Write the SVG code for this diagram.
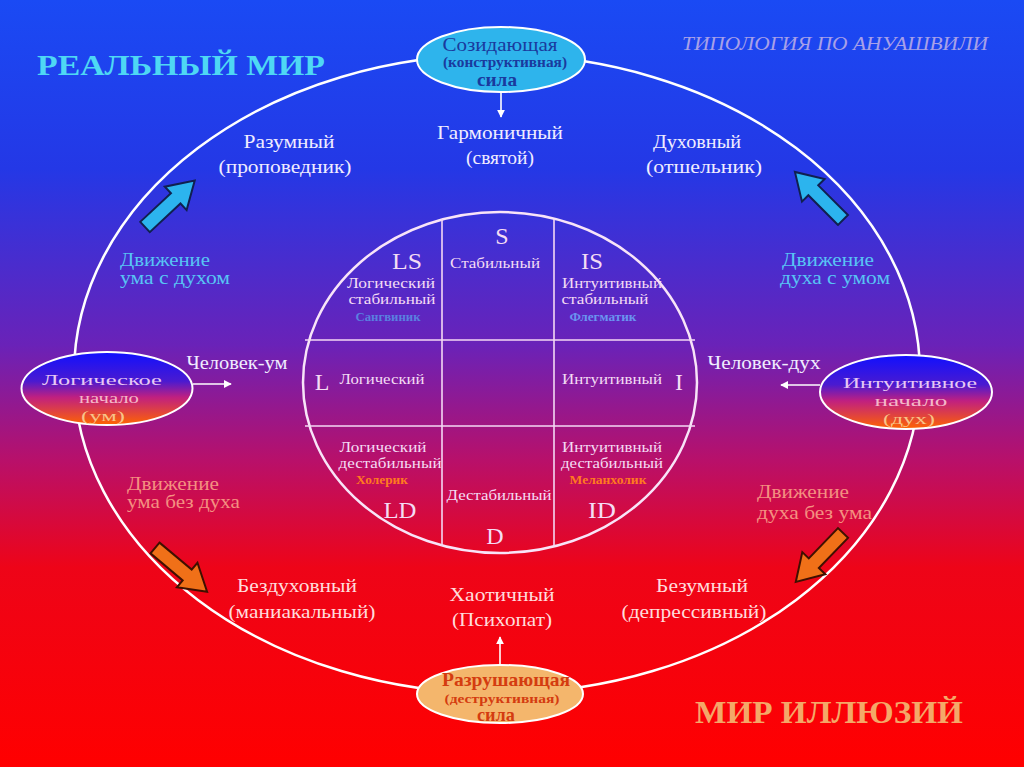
<svg xmlns="http://www.w3.org/2000/svg" width="1024" height="767" viewBox="0 0 1024 767">
<defs>
<linearGradient id="bg" x1="0" y1="0" x2="0" y2="1">
<stop offset="0" stop-color="#1a4af4"/>
<stop offset="0.22" stop-color="#2438e6"/>
<stop offset="0.45" stop-color="#6a22b8"/>
<stop offset="0.6" stop-color="#b8106a"/>
<stop offset="0.74" stop-color="#ee0418"/>
<stop offset="1" stop-color="#ff0000"/>
</linearGradient>
<linearGradient id="nodeGrad" x1="0" y1="0" x2="0" y2="1">
<stop offset="0" stop-color="#1010ff"/>
<stop offset="0.4" stop-color="#4a1ad0"/>
<stop offset="0.62" stop-color="#c02080"/>
<stop offset="1" stop-color="#ff6400"/>
</linearGradient>
<marker id="ah" viewBox="0 0 10 10" refX="9" refY="5" markerWidth="5" markerHeight="5" orient="auto">
<path d="M0,0 L10,5 L0,10 z" fill="#ffffff"/>
</marker>
<path id="blk" d="M0,-7 L42,-7 L42,-16 L68,0 L42,16 L42,7 L0,7 z"/>
</defs>
<style>
text{font-family:"Liberation Serif","Times New Roman",serif;text-anchor:middle}
.lbl{font-size:18px;fill:#f0ecff}
.lblr{font-size:18px;fill:#ffdcdc}
.in{font-size:15px;fill:#f4dcf4}
.big{font-size:24px;fill:#f4dcf4}
.mv{font-size:18px;fill:#58c4f4;text-anchor:start}
.mvr{font-size:18px;fill:#f49080;text-anchor:start}
.grid{stroke:#f4d8f4;stroke-width:1.6;fill:none}
.bluearr{fill:#2cb4ee;stroke:#102050;stroke-width:2}
.orarr{fill:#f07018;stroke:#401000;stroke-width:2}
.nt{font-size:15.5px}
</style>
<rect width="1024" height="767" fill="url(#bg)"/>

<text x="181" y="75" style="font-size:29px;font-weight:bold;fill:#4ed8f4" textLength="288" lengthAdjust="spacingAndGlyphs">РЕАЛЬНЫЙ  МИР</text>
<text x="835" y="50" style="font-size:19px;font-style:italic;fill:#a8a0e8" textLength="306" lengthAdjust="spacingAndGlyphs">ТИПОЛОГИЯ ПО АНУАШВИЛИ</text>
<text x="829" y="723" style="font-size:31px;font-weight:bold;fill:#f4a868" textLength="268" lengthAdjust="spacingAndGlyphs">МИР  ИЛЛЮЗИЙ</text>

<ellipse cx="497" cy="374" rx="423" ry="319.5" fill="none" stroke="#ffffff" stroke-width="2.5"/>

<g id="inner">
<ellipse cx="500" cy="382.5" rx="197" ry="170.5" fill="none" stroke="#f8e4f8" stroke-width="2.5"/>
<line class="grid" x1="442" y1="219" x2="442" y2="546"/>
<line class="grid" x1="554" y1="219" x2="554" y2="546"/>
<line class="grid" x1="305" y1="340" x2="695" y2="340"/>
<line class="grid" x1="305" y1="426" x2="695" y2="426"/>
<text class="big" x="502" y="244">S</text>
<text class="big" x="407" y="269" textLength="30" lengthAdjust="spacingAndGlyphs">LS</text>
<text class="in" x="495" y="268" textLength="90" lengthAdjust="spacingAndGlyphs">Стабильный</text>
<text class="big" x="592" y="269" textLength="22" lengthAdjust="spacingAndGlyphs">IS</text>
<text class="in" x="391" y="288" textLength="88" lengthAdjust="spacingAndGlyphs">Логический</text>
<text class="in" x="392" y="304" textLength="87" lengthAdjust="spacingAndGlyphs">стабильный</text>
<text x="388" y="321" style="font-size:12px;font-weight:bold;fill:#5a80e0" textLength="65" lengthAdjust="spacingAndGlyphs">Сангвиник</text>
<text class="in" x="612" y="288" textLength="100" lengthAdjust="spacingAndGlyphs">Интуитивный</text>
<text class="in" x="605" y="304" textLength="87" lengthAdjust="spacingAndGlyphs">стабильный</text>
<text x="603" y="321" style="font-size:12px;font-weight:bold;fill:#6a94f0" textLength="67" lengthAdjust="spacingAndGlyphs">Флегматик</text>
<text class="big" x="322" y="390">L</text>
<text class="in" x="382" y="384" textLength="85" lengthAdjust="spacingAndGlyphs">Логический</text>
<text class="in" x="612" y="384" textLength="100" lengthAdjust="spacingAndGlyphs">Интуитивный</text>
<text class="big" x="679" y="390">I</text>
<text class="in" x="383" y="452" textLength="87" lengthAdjust="spacingAndGlyphs">Логический</text>
<text class="in" x="390" y="468" textLength="103" lengthAdjust="spacingAndGlyphs">дестабильный</text>
<text x="382" y="484" style="font-size:12px;font-weight:bold;fill:#ff7a20" textLength="52" lengthAdjust="spacingAndGlyphs">Холерик</text>
<text class="in" x="612" y="452" textLength="100" lengthAdjust="spacingAndGlyphs">Интуитивный</text>
<text class="in" x="612" y="468" textLength="102" lengthAdjust="spacingAndGlyphs">дестабильный</text>
<text x="608" y="484" style="font-size:12px;font-weight:bold;fill:#ff7a20" textLength="77" lengthAdjust="spacingAndGlyphs">Меланхолик</text>
<text class="big" x="400" y="518" textLength="33" lengthAdjust="spacingAndGlyphs">LD</text>
<text class="in" x="499" y="500" textLength="105" lengthAdjust="spacingAndGlyphs">Дестабильный</text>
<text class="big" x="602" y="518" textLength="28" lengthAdjust="spacingAndGlyphs">ID</text>
<text class="big" x="495" y="544">D</text>
</g>

<g id="labels">
<text class="lbl" x="289" y="148" textLength="91" lengthAdjust="spacingAndGlyphs">Разумный</text>
<text class="lbl" x="285" y="173" textLength="133" lengthAdjust="spacingAndGlyphs">(проповедник)</text>
<text class="lbl" x="500" y="139" textLength="126" lengthAdjust="spacingAndGlyphs">Гармоничный</text>
<text class="lbl" x="500" y="164" textLength="68" lengthAdjust="spacingAndGlyphs">(святой)</text>
<text class="lbl" x="697" y="148" textLength="88" lengthAdjust="spacingAndGlyphs">Духовный</text>
<text class="lbl" x="704" y="173" textLength="116" lengthAdjust="spacingAndGlyphs">(отшельник)</text>
<text class="mv" x="120" y="266" textLength="90" lengthAdjust="spacingAndGlyphs">Движение</text>
<text class="mv" x="120" y="284" textLength="110" lengthAdjust="spacingAndGlyphs">ума с духом</text>
<text class="mv" x="782" y="266" textLength="92" lengthAdjust="spacingAndGlyphs">Движение</text>
<text class="mv" x="780" y="284" textLength="110" lengthAdjust="spacingAndGlyphs">духа с умом</text>
<text class="lbl" x="237" y="369" textLength="101" lengthAdjust="spacingAndGlyphs">Человек-ум</text>
<text class="lbl" x="764" y="369" textLength="113" lengthAdjust="spacingAndGlyphs">Человек-дух</text>
<text class="mvr" x="127" y="490" textLength="92" lengthAdjust="spacingAndGlyphs">Движение</text>
<text class="mvr" x="127" y="508" textLength="113" lengthAdjust="spacingAndGlyphs">ума без духа</text>
<text class="mvr" x="757" y="498" textLength="92" lengthAdjust="spacingAndGlyphs">Движение</text>
<text class="mvr" x="757" y="519" textLength="115" lengthAdjust="spacingAndGlyphs">духа без ума</text>
<text class="lblr" x="297" y="592" textLength="120" lengthAdjust="spacingAndGlyphs">Бездуховный</text>
<text class="lblr" x="302" y="618" textLength="147" lengthAdjust="spacingAndGlyphs">(маниакальный)</text>
<text class="lblr" x="502" y="601" textLength="105" lengthAdjust="spacingAndGlyphs">Хаотичный</text>
<text class="lblr" x="502" y="626" textLength="100" lengthAdjust="spacingAndGlyphs">(Психопат)</text>
<text class="lblr" x="702" y="592" textLength="92" lengthAdjust="spacingAndGlyphs">Безумный</text>
<text class="lblr" x="694" y="618" textLength="145" lengthAdjust="spacingAndGlyphs">(депрессивный)</text>
</g>

<g id="connectors">
<line x1="501" y1="92" x2="501" y2="117" stroke="#ffffff" stroke-width="1.6" marker-end="url(#ah)"/>
<line x1="500" y1="665" x2="500" y2="637" stroke="#ffffff" stroke-width="1.6" marker-end="url(#ah)"/>
<line x1="193" y1="384" x2="231" y2="384" stroke="#ffffff" stroke-width="1.6" marker-end="url(#ah)"/>
<line x1="820" y1="385" x2="781" y2="385" stroke="#ffffff" stroke-width="1.6" marker-end="url(#ah)"/>
<use href="#blk" class="bluearr" transform="translate(145,227) rotate(-43)"/>
<use href="#blk" class="bluearr" transform="translate(843,220) rotate(-135)"/>
<use href="#blk" class="orarr" transform="translate(155,548) rotate(40)"/>
<use href="#blk" class="orarr" transform="translate(843,533) rotate(134)"/>
</g>

<g id="node-top">
<ellipse cx="501" cy="59.5" rx="84" ry="32.5" fill="#2eb4ec" stroke="#ffffff" stroke-width="2"/>
<text x="500" y="51" style="font-size:19px;fill:#1a3a9e" textLength="115" lengthAdjust="spacingAndGlyphs">Созидающая</text>
<text x="505" y="67" style="font-size:14px;font-weight:bold;fill:#1a3a9e" textLength="124" lengthAdjust="spacingAndGlyphs">(конструктивная)</text>
<text x="497" y="86" style="font-size:19px;font-weight:bold;fill:#1a3a9e" textLength="40" lengthAdjust="spacingAndGlyphs">сила</text>
</g>

<g id="node-bottom">
<ellipse cx="500" cy="694" rx="83" ry="29" fill="#f4b66c" stroke="#ffffff" stroke-width="2"/>
<text x="506" y="686" style="font-size:19px;font-weight:bold;fill:#d43c10" textLength="128" lengthAdjust="spacingAndGlyphs">Разрушающая</text>
<text x="502" y="703" style="font-size:13px;font-weight:bold;fill:#d43c10" textLength="115" lengthAdjust="spacingAndGlyphs">(деструктивная)</text>
<text x="496" y="721" style="font-size:19px;font-weight:bold;fill:#d43c10" textLength="38" lengthAdjust="spacingAndGlyphs">сила</text>
</g>

<g id="node-left">
<ellipse cx="107" cy="388.5" rx="85.5" ry="36.5" fill="url(#nodeGrad)" stroke="#ffffff" stroke-width="2"/>
<text class="nt" x="102" y="385" style="fill:#e8c8f4" textLength="120" lengthAdjust="spacingAndGlyphs">Логическое</text>
<text class="nt" x="109" y="403" style="fill:#f4b8c8" textLength="60" lengthAdjust="spacingAndGlyphs">начало</text>
<text class="nt" x="103" y="421" style="fill:#f8c488" textLength="44" lengthAdjust="spacingAndGlyphs">(ум)</text>
</g>

<g id="node-right">
<ellipse cx="906" cy="392" rx="86" ry="37" fill="url(#nodeGrad)" stroke="#ffffff" stroke-width="2"/>
<text class="nt" x="910" y="388" style="fill:#e8c8f4" textLength="134" lengthAdjust="spacingAndGlyphs">Интуитивное</text>
<text class="nt" x="911" y="406" style="fill:#f4b8c8" textLength="73" lengthAdjust="spacingAndGlyphs">начало</text>
<text class="nt" x="909" y="424" style="fill:#f8c488" textLength="52" lengthAdjust="spacingAndGlyphs">(дух)</text>
</g>
</svg>
